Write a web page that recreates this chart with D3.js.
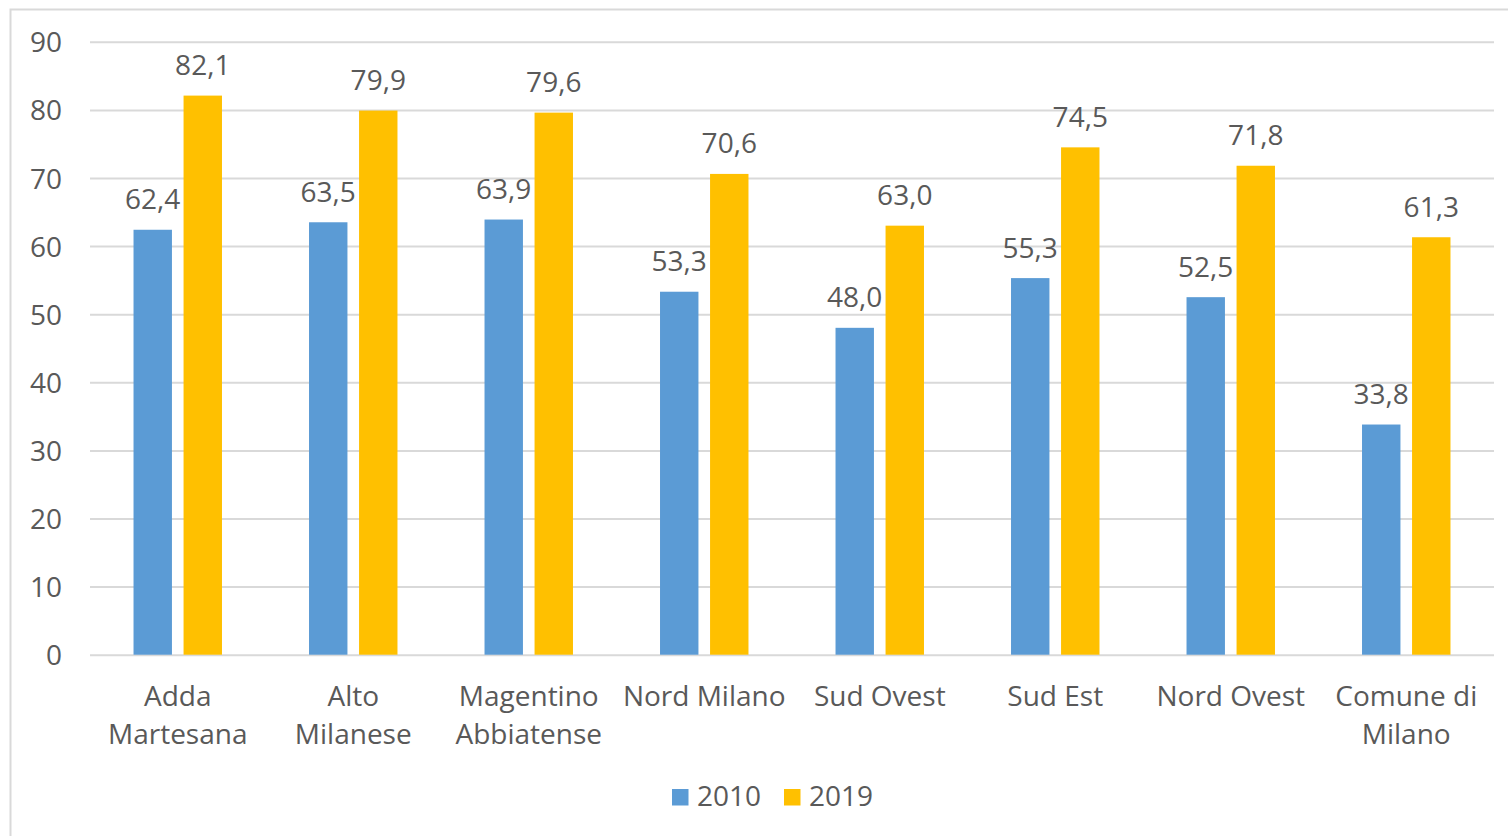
<!DOCTYPE html>
<html><head><meta charset="utf-8">
<script src="https://cdn.jsdelivr.net/npm/d3@7"></script>
<style>body{margin:0;background:#fff}svg{display:block}</style>
</head><body><svg id="c" width="1508" height="836"></svg>
<script>
const categories = [["Adda","Martesana"],["Alto","Milanese"],["Magentino","Abbiatense"],["Nord Milano"],["Sud Ovest"],["Sud Est"],["Nord Ovest"],["Comune di","Milano"]];
const series = ["2010","2019"];
const values2010 = [62.4,63.5,63.9,53.3,48.0,55.3,52.5,33.8];
const values2019 = [82.1,79.9,79.6,70.6,63.0,74.5,71.8,61.3];
const yTicks = [0,10,20,30,40,50,60,70,80,90];
const colors = ["#5B9BD5","#FFC000"];

const svg = d3.select("#c");
const font = "'Open Sans', sans-serif";
const fs = "28px";
const textColor = "#595959";
const L=90,R=1494,T=41.8,B=654.7;

svg.append("rect").attr("x",10.5).attr("y",9.5).attr("width",1520).attr("height",900)
  .attr("fill","none").attr("stroke","#d9d9d9").attr("stroke-width",2);

const keys = categories.map(c=>c.join(" "));
const x0 = d3.scaleBand().domain(keys).range([L,R]).paddingInner(0.496).paddingOuter(0.248);
const x1 = d3.scaleBand().domain(series).range([0,x0.bandwidth()]).paddingInner(0.232).paddingOuter(0);
const y = d3.scaleLinear().domain([0,90]).range([B,T]);

const yAxis = d3.axisLeft(y).tickValues(yTicks).tickSize(-(R-L)).tickPadding(0);
const ga = svg.append("g").attr("transform",`translate(${L},0)`).call(yAxis);
ga.select(".domain").remove();
ga.selectAll(".tick line").attr("stroke","#d9d9d9").attr("stroke-width",2);
ga.selectAll(".tick text").attr("x",-28).attr("dy","0.36em").attr("fill",textColor)
  .style("font-family",font).style("font-size",fs);

const data = keys.map((k,i)=>({k, vals:[values2010[i],values2019[i]]}));
const g = svg.append("g");
const grp = g.selectAll("g").data(data).join("g").attr("transform",d=>`translate(${x0(d.k)},0)`);
grp.selectAll("rect").data(d=>d.vals.map((v,j)=>({s:series[j],v,j}))).join("rect")
  .attr("x",d=>x1(d.s)).attr("width",x1.bandwidth())
  .attr("y",d=>y(d.v)).attr("height",d=>y(0)-y(d.v)).attr("fill",d=>colors[d.j]);
grp.selectAll("text").data(d=>d.vals.map((v,j)=>({s:series[j],v,j}))).join("text")
  .attr("x",d=>x1(d.s)+x1.bandwidth()/2).attr("y",d=>y(d.v)-20.5)
  .attr("text-anchor","middle").attr("fill",textColor)
  .style("font-family",font).style("font-size",fs)
  .text(d=>d.v.toFixed(1).replace(".",","));

// category labels
const xc = svg.append("g");
categories.forEach((lines,i)=>{
  const cx = x0(keys[i])+x0.bandwidth()/2;
  const t = xc.append("text").attr("text-anchor","middle").attr("fill",textColor)
    .style("font-family",font).style("font-size",fs);
  lines.forEach((ln,j)=>t.append("tspan").attr("x",cx).attr("y",706+j*38).text(ln));
});

// legend
const leg = svg.append("g");
const legX = [672,784];
series.forEach((s,i)=>{
  leg.append("rect").attr("x",legX[i]).attr("y",789).attr("width",16.5).attr("height",16.5).attr("fill",colors[i]);
  leg.append("text").attr("x",legX[i]+25).attr("y",806).attr("fill",textColor)
    .style("font-family",font).style("font-size",fs).text(s);
});
</script></body></html>
